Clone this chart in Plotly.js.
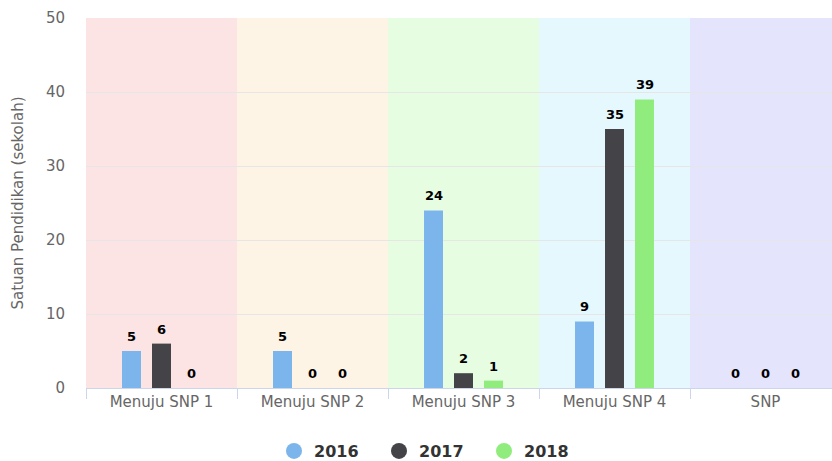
<!DOCTYPE html>
<html><head><meta charset="utf-8">
<script src="https://cdn.plot.ly/plotly-3.0.1.min.js"></script>
<style>html,body{margin:0;padding:0;overflow:hidden;background:#fff;width:832px;height:461px}</style>
</head><body><div id="chart" style="width:845px;height:461px"></div>
<script>
const categories = ["Menuju SNP 1", "Menuju SNP 2", "Menuju SNP 3", "Menuju SNP 4", "SNP"];
const seriesNames = ["2016", "2017", "2018"];
const values2016 = [5, 5, 24, 9, 0];
const values2017 = [6, 0, 2, 35, 0];
const values2018 = [0, 0, 1, 39, 0];
const seriesColors = ["#7cb5ec", "#434348", "#90ed7d"];
const bandColors = ["rgb(253,228,228)", "rgb(253,244,230)", "rgb(230,253,226)", "rgb(228,248,253)", "rgb(228,228,253)"];
const yTicks = [0, 10, 20, 30, 40, 50];

const allValues = [values2016, values2017, values2018];
const font = "DejaVu Sans, Verdana, sans-serif";
const bargap = 0.404;
const slot = (1 - bargap) / allValues.length;

const traces = allValues.map((vals, i) => ({
  type: "bar",
  name: seriesNames[i],
  x: categories,
  y: vals,
  marker: {color: seriesColors[i]},
  showlegend: false,
  hoverinfo: "skip"
}));
seriesNames.forEach((n, i) => traces.push({
  type: "scatter", mode: "markers", name: n,
  x: [null], y: [null],
  marker: {color: seriesColors[i], size: 16, symbol: "circle"},
  showlegend: true
}));

const shapes = categories.map((c, i) => ({
  type: "rect", xref: "x", yref: "paper",
  x0: i - 0.5, x1: i + 0.5, y0: 0, y1: 1,
  fillcolor: bandColors[i], line: {width: 0}, layer: "below"
}));

const annotations = [];
allValues.forEach((vals, k) => vals.forEach((v, i) => annotations.push({
  xref: "x", yref: "y",
  x: i + (k - (allValues.length - 1) / 2) * slot, y: v,
  text: String(v), showarrow: false,
  xanchor: "center", yanchor: "bottom", yshift: 5,
  font: {family: font, size: 13, color: "#000", weight: "bold"}
})));

const layout = {
  width: 845, height: 461,
  margin: {l: 86, r: 4, t: 18, b: 73},
  paper_bgcolor: "#fff", plot_bgcolor: "#fff",
  font: {family: font, color: "#666", size: 15},
  barmode: "group", bargap: bargap, bargroupgap: 0.367,
  shapes: shapes,
  annotations: annotations,
  xaxis: {
    type: "category", range: [-0.5, 4.5],
    tickson: "boundaries", ticks: "outside", ticklen: 10, tickcolor: "#ccd6eb", tickwidth: 1,
    showline: true, linecolor: "#ccd6eb", linewidth: 1,
    showgrid: false, zeroline: false,
    tickfont: {family: font, size: 15, color: "#666"}
  },
  yaxis: {
    range: [0, 50], tickvals: yTicks, ticktext: yTicks.map(String),
    showgrid: true, gridcolor: "#e6e6e6", gridwidth: 1,
    zeroline: false, showline: false,
    ticklabelstandoff: 20,
    tickfont: {family: font, size: 15, color: "#666"},
    title: {text: "Satuan Pendidikan (sekolah)", font: {family: font, size: 15, color: "#666"}, standoff: 18}
  },
  legend: {
    orientation: "h", xref: "container", yref: "container",
    x: 0.5 + 9 / 845, xanchor: "center", y: 1 - 451 / 461, yanchor: "middle",
    font: {family: font, size: 16, color: "#333", weight: "bold"},
    entrywidth: 60, entrywidthmode: "pixels",
    itemclick: false
  }
};
Plotly.newPlot("chart", traces, layout, {displayModeBar: false, staticPlot: true});
</script></body></html>
